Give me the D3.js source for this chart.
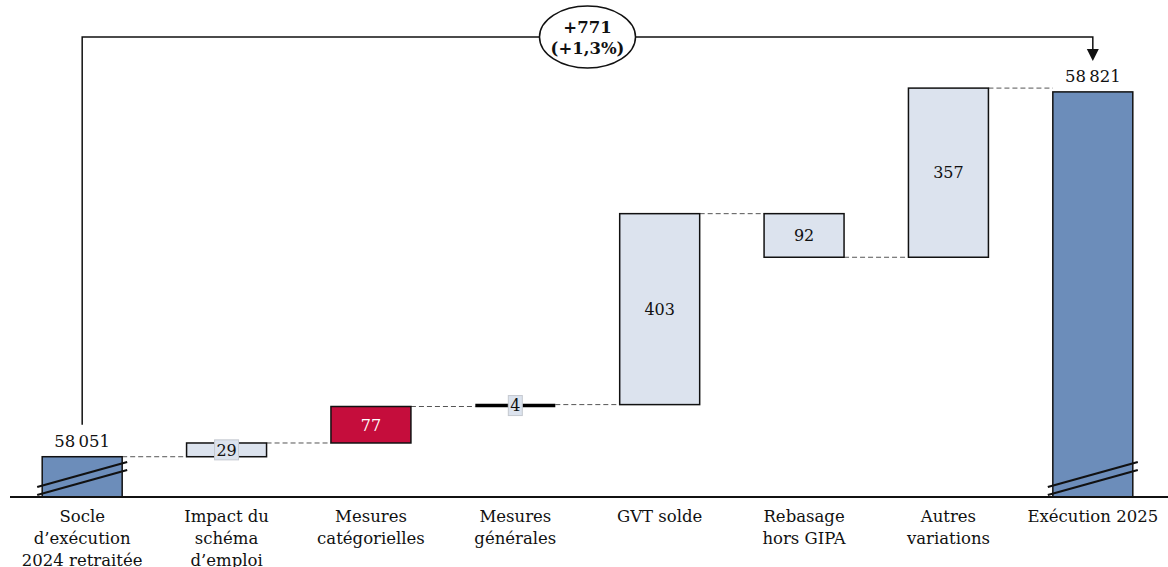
<!DOCTYPE html>
<html>
<head>
<meta charset="utf-8">
<script src="https://cdn.jsdelivr.net/npm/d3@7"></script>
<style>
  html, body { margin: 0; padding: 0; background: #fff; }
  svg { display: block; font-family: "DejaVu Serif", serif; }
</style>
</head>
<body>
<svg id="chart" width="1168" height="567"></svg>
<script>
// Waterfall: from the 2024 execution base to 2025 execution
const categories = [
  ["Socle", "d’exécution", "2024 retraitée"],
  ["Impact du", "schéma", "d’emploi"],
  ["Mesures", "catégorielles"],
  ["Mesures", "générales"],
  ["GVT solde"],
  ["Rebasage", "hors GIPA"],
  ["Autres", "variations"],
  ["Exécution 2025"]
];
const kinds = ["total", "delta", "delta", "delta", "delta", "delta", "delta", "total"];
const values = [58051, 29, 77, 4, 403, -92, 357, 58821];
const valueLabels = ["58\u202F051", "29", "77", "4", "403", "92", "357", "58\u202F821"];
const highlight = [false, false, true, false, false, false, false, false];
const variationLabels = ["+771", "(+1,3%)"];

const W = 1168, H = 567;
const baseY = 497;
const colors = { total: "#6c8dba", delta: "#dce3ee", red: "#c50d3c" };

const svg = d3.select("#chart");

const x = d3.scaleBand()
  .domain(d3.range(categories.length))
  .range([10, 1165])
  .paddingInner(0.446)
  .paddingOuter(0.223);

const y = d3.scaleLinear().domain([57966, 58825]).range([baseY, 90]);

// running levels for each bar
const bars = [];
let level = 0;
values.forEach((v, i) => {
  if (kinds[i] === "total") {
    bars.push({ i, start: y.domain()[0], end: v, kind: "total" });
    level = v;
  } else {
    bars.push({ i, start: level, end: level + v, kind: "delta" });
    level += v;
  }
});

// dashed connectors between consecutive bars
const conn = svg.append("g");
for (let k = 0; k < bars.length - 1; k++) {
  const lv = bars[k].end;
  conn.append("line")
    .attr("x1", x(k) + x.bandwidth())
    .attr("x2", x(k + 1))
    .attr("y1", y(lv)).attr("y2", y(lv))
    .attr("stroke", "#555").attr("stroke-width", 1)
    .attr("stroke-dasharray", "5,3");
}

// bars
const g = svg.append("g");
bars.forEach(b => {
  const top = y(Math.max(b.start, b.end));
  const bot = y(Math.min(b.start, b.end));
  const h = bot - top;
  if (b.kind === "delta" && h < 4) {
    g.append("line")
      .attr("x1", x(b.i)).attr("x2", x(b.i) + x.bandwidth())
      .attr("y1", (top + bot) / 2).attr("y2", (top + bot) / 2)
      .attr("stroke", "#000").attr("stroke-width", 3.5);
  } else {
    g.append("rect")
      .attr("x", x(b.i)).attr("y", top)
      .attr("width", x.bandwidth()).attr("height", h)
      .attr("fill", b.kind === "total" ? colors.total : (highlight[b.i] ? colors.red : colors.delta))
      .attr("stroke", "#111").attr("stroke-width", 1.5);
  }
  const cx = x(b.i) + x.bandwidth() / 2;
  if (b.kind === "total") {
    g.append("text")
      .attr("x", cx).attr("y", top - 10)
      .attr("text-anchor", "middle")
      .attr("font-size", 16.5).attr("fill", "#111")
      .text(valueLabels[b.i]);
    // axis-break marks
    const bx0 = x(b.i) - 5, bx1 = x(b.i) + x.bandwidth() + 5;
    [0, 8].forEach(off => {
      g.append("line")
        .attr("x1", bx0).attr("y1", baseY - 10 + off)
        .attr("x2", bx1).attr("y2", baseY - 35 + off)
        .attr("stroke", "#111").attr("stroke-width", 2.2);
    });
  } else {
    const cy = (top + bot) / 2;
    if (h < 20) {
      const tw = valueLabels[b.i].length * 10 + 4;
      g.append("rect")
        .attr("x", cx - tw / 2).attr("y", cy - 10)
        .attr("width", tw).attr("height", 20)
        .attr("fill", colors.delta).attr("stroke", "#c4c8cf").attr("stroke-width", 1);
    }
    g.append("text")
      .attr("x", cx).attr("y", cy)
      .attr("dy", "0.36em")
      .attr("text-anchor", "middle")
      .attr("font-size", 16)
      .attr("fill", highlight[b.i] ? "#fff" : "#111")
      .text(valueLabels[b.i]);
  }
});

// baseline
svg.append("line")
  .attr("x1", 10).attr("x2", W).attr("y1", baseY).attr("y2", baseY)
  .attr("stroke", "#111").attr("stroke-width", 2);

// category labels
const cl = svg.append("g");
categories.forEach((lines, i) => {
  const t = cl.append("text")
    .attr("x", x(i) + x.bandwidth() / 2)
    .attr("y", 522)
    .attr("text-anchor", "middle")
    .attr("font-size", 16.5).attr("fill", "#111");
  lines.forEach((ln, k) => {
    t.append("tspan").attr("x", x(i) + x.bandwidth() / 2)
      .attr("dy", k === 0 ? 0 : 22).text(ln);
  });
});

// overall variation bracket
const first = bars[0], last = bars[bars.length - 1];
const fx = x(first.i) + x.bandwidth() / 2;
const lx = x(last.i) + x.bandwidth() / 2;
const bracketY = 37;
const arrowTip = y(last.end) - 31;
svg.append("path")
  .attr("d", `M${fx},${y(first.end) - 32} V${bracketY} H${lx} V${arrowTip - 10}`)
  .attr("fill", "none").attr("stroke", "#111").attr("stroke-width", 1.5);
svg.append("path")
  .attr("d", `M${lx - 6},${arrowTip - 12} L${lx + 6},${arrowTip - 12} L${lx},${arrowTip} Z`)
  .attr("fill", "#111");

const ex = (fx + lx) / 2;
svg.append("ellipse")
  .attr("cx", ex).attr("cy", bracketY).attr("rx", 48).attr("ry", 31)
  .attr("fill", "#fff").attr("stroke", "#111").attr("stroke-width", 1.5);
const vt = svg.append("text")
  .attr("x", ex).attr("y", 33)
  .attr("text-anchor", "middle")
  .attr("font-size", 16.5).attr("font-weight", "bold").attr("fill", "#111");
variationLabels.forEach((s, k) => {
  vt.append("tspan").attr("x", ex).attr("dy", k === 0 ? 0 : 21).text(s);
});
</script>
</body>
</html>
